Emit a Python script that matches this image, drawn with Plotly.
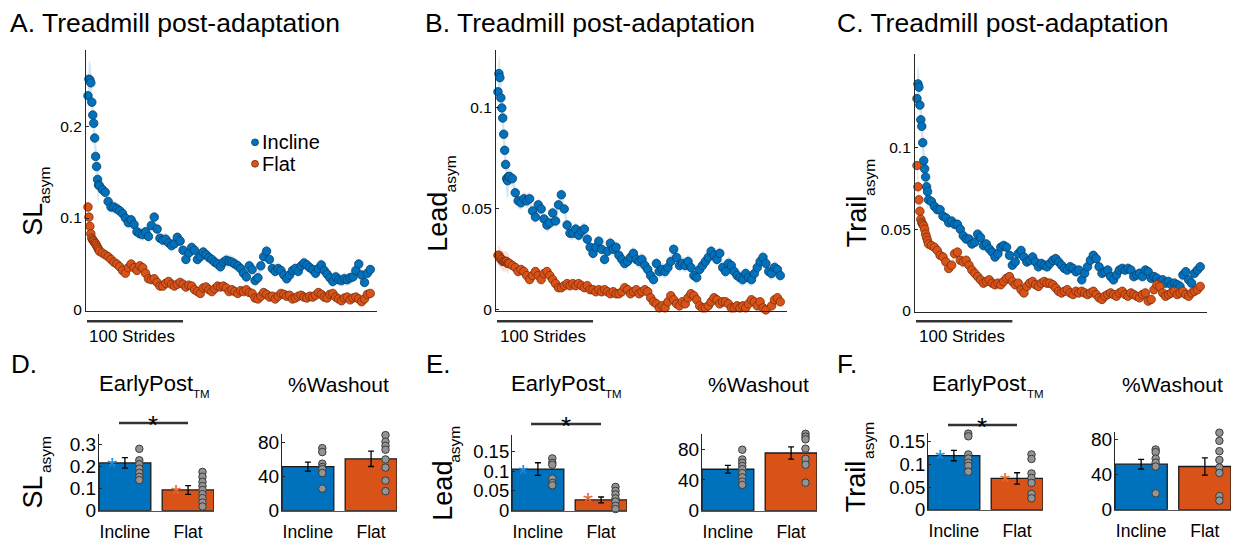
import plotly.graph_objects as go

W, H = 1241, 546
def fx(x): return x / W
def fy(y): return 1 - y / H

# ---------------- data ----------------
strides = list(range(1, 13)) + list(range(13, 296, 3))

sl_incline = [0.233, 0.251, 0.250, 0.247, 0.226, 0.212, 0.203, 0.187, 0.167, 0.156, 0.142, 0.136,
    0.135, 0.131, 0.128, 0.118, 0.112, 0.112,
    0.110, 0.108, 0.105, 0.100, 0.095, 0.098, 0.093, 0.085, 0.083, 0.082,
    0.085, 0.080, 0.092, 0.101, 0.088, 0.078, 0.076, 0.077, 0.073, 0.070,
    0.072, 0.079, 0.075, 0.065, 0.055, 0.062, 0.068, 0.065, 0.055, 0.058,
    0.063, 0.060, 0.057, 0.055, 0.052, 0.050, 0.047, 0.052, 0.054, 0.053,
    0.052, 0.050, 0.048, 0.045, 0.040, 0.036, 0.048, 0.044, 0.032, 0.035,
    0.048, 0.058, 0.064, 0.055, 0.045, 0.042, 0.045, 0.043, 0.038, 0.034,
    0.038, 0.043, 0.045, 0.042, 0.048, 0.051, 0.049, 0.046, 0.044, 0.040,
    0.045, 0.049, 0.043, 0.039, 0.035, 0.031, 0.036, 0.033, 0.032, 0.034,
    0.033, 0.035, 0.036, 0.043, 0.050, 0.038, 0.030, 0.040, 0.044]
sl_flat = [0.112, 0.101, 0.091, 0.083, 0.078, 0.076, 0.075, 0.073, 0.072, 0.070, 0.068, 0.066,
    0.064, 0.062, 0.060, 0.058, 0.055, 0.052,
    0.050, 0.047, 0.043, 0.040, 0.046, 0.050, 0.046, 0.043, 0.048, 0.046,
    0.040, 0.034, 0.033, 0.034, 0.030, 0.026, 0.026, 0.029, 0.031, 0.028,
    0.026, 0.028, 0.030, 0.028, 0.025, 0.027, 0.026, 0.022, 0.020, 0.018,
    0.024, 0.025, 0.022, 0.020, 0.023, 0.026, 0.025, 0.026, 0.024, 0.020,
    0.022, 0.020, 0.018, 0.021, 0.020, 0.022, 0.019, 0.018, 0.013, 0.012,
    0.015, 0.019, 0.017, 0.014, 0.015, 0.012, 0.015, 0.018, 0.017, 0.015,
    0.016, 0.012, 0.013, 0.015, 0.016, 0.014, 0.013, 0.015, 0.014, 0.016,
    0.019, 0.017, 0.014, 0.013, 0.017, 0.018, 0.014, 0.012, 0.010, 0.013,
    0.014, 0.011, 0.013, 0.014, 0.012, 0.009, 0.012, 0.017, 0.018]
lead_incline = [0.108, 0.117, 0.115, 0.105, 0.100, 0.095, 0.087, 0.079, 0.072, 0.065, 0.064, 0.066,
    0.066, 0.065, 0.058, 0.054, 0.053, 0.055,
    0.054, 0.055, 0.049, 0.046, 0.052, 0.050, 0.045, 0.042, 0.043, 0.048,
    0.044, 0.052, 0.057, 0.050, 0.042, 0.038, 0.038, 0.040, 0.037, 0.039,
    0.040, 0.035, 0.031, 0.028, 0.031, 0.034, 0.030, 0.025, 0.029, 0.033,
    0.030, 0.031, 0.027, 0.025, 0.023, 0.024, 0.026, 0.028, 0.025, 0.024,
    0.025, 0.022, 0.020, 0.017, 0.015, 0.023, 0.019, 0.020, 0.019, 0.021,
    0.024, 0.030, 0.026, 0.022, 0.023, 0.022, 0.024, 0.021, 0.017, 0.016,
    0.020, 0.022, 0.024, 0.026, 0.029, 0.027, 0.025, 0.028, 0.021, 0.019,
    0.023, 0.022, 0.019, 0.017, 0.016, 0.015, 0.018, 0.016, 0.015, 0.018,
    0.021, 0.024, 0.026, 0.023, 0.019, 0.018, 0.021, 0.020, 0.017]
lead_flat = [0.027, 0.027, 0.026, 0.025, 0.025, 0.024, 0.024, 0.024, 0.024, 0.024, 0.023, 0.023,
    0.023, 0.022, 0.021, 0.019, 0.020, 0.019,
    0.017, 0.015, 0.017, 0.019, 0.017, 0.015, 0.018, 0.019, 0.017, 0.015,
    0.013, 0.011, 0.011, 0.012, 0.013, 0.012, 0.013, 0.012, 0.013, 0.012,
    0.011, 0.012, 0.010, 0.010, 0.009, 0.010, 0.009, 0.010, 0.009, 0.008,
    0.009, 0.008, 0.008, 0.009, 0.011, 0.010, 0.008, 0.009, 0.010, 0.008,
    0.009, 0.010, 0.009, 0.006, 0.004, 0.003, 0.001, 0.002, 0.001, 0.004,
    0.007, 0.005, 0.003, 0.002, 0.004, 0.003, 0.006, 0.008, 0.007, 0.005,
    0.002, 0.001, 0.001, 0.002, 0.004, 0.006, 0.005, 0.003, 0.004, 0.004,
    0.003, 0.001, 0.001, 0.002, 0.001, 0.002, 0.001, 0.003, 0.005, 0.004,
    0.002, 0.004, 0.001, 0.000, -0.001, 0.002, 0.005, 0.006, 0.004]
trail_incline = [0.130, 0.139, 0.137, 0.126, 0.117, 0.113, 0.103, 0.092, 0.087, 0.082, 0.076, 0.073,
    0.068, 0.067, 0.064, 0.062, 0.062, 0.058,
    0.057, 0.054, 0.055, 0.053, 0.053, 0.050, 0.046, 0.044, 0.044, 0.041,
    0.042, 0.047, 0.045, 0.040, 0.041, 0.038, 0.036, 0.033, 0.035, 0.039,
    0.040, 0.039, 0.034, 0.028, 0.030, 0.035, 0.037, 0.033, 0.030, 0.031,
    0.033, 0.030, 0.027, 0.029, 0.028, 0.027, 0.029, 0.031, 0.032, 0.030,
    0.028, 0.026, 0.025, 0.027, 0.026, 0.024, 0.025, 0.019, 0.023, 0.027,
    0.031, 0.034, 0.032, 0.027, 0.023, 0.024, 0.025, 0.021, 0.019, 0.022,
    0.025, 0.026, 0.025, 0.026, 0.025, 0.021, 0.022, 0.023, 0.021, 0.025,
    0.024, 0.020, 0.021, 0.020, 0.018, 0.019, 0.017, 0.018, 0.016, 0.017,
    0.016, 0.015, 0.022, 0.024, 0.019, 0.017, 0.023, 0.025, 0.027]
trail_flat = [0.089, 0.076, 0.068, 0.061, 0.056, 0.054, 0.053, 0.052, 0.050, 0.047, 0.045, 0.043,
    0.041, 0.040, 0.039, 0.037, 0.034, 0.033,
    0.030, 0.026, 0.028, 0.035, 0.036, 0.031, 0.030, 0.031, 0.028, 0.025,
    0.023, 0.021, 0.019, 0.017, 0.018, 0.019, 0.017, 0.016, 0.017, 0.016,
    0.018, 0.020, 0.021, 0.018, 0.016, 0.017, 0.013, 0.011, 0.015, 0.017,
    0.018, 0.016, 0.015, 0.017, 0.018, 0.017, 0.017, 0.016, 0.014, 0.012,
    0.011, 0.012, 0.013, 0.011, 0.010, 0.012, 0.011, 0.012, 0.011, 0.010,
    0.011, 0.012, 0.010, 0.008, 0.007, 0.009, 0.010, 0.011, 0.010, 0.009,
    0.011, 0.012, 0.010, 0.009, 0.011, 0.010, 0.009, 0.008, 0.010, 0.011,
    0.006, 0.007, 0.013, 0.016, 0.015, 0.011, 0.009, 0.010, 0.011, 0.012,
    0.010, 0.011, 0.012, 0.010, 0.009, 0.011, 0.012, 0.013, 0.015]

# standard error (early strides, later strides)
sl_incline_se = [0.02, 0.007]
sl_flat_se = [0.009, 0.004]
lead_incline_se = [0.009, 0.0035]
lead_flat_se = [0.005, 0.0025]
trail_incline_se = [0.011, 0.0035]
trail_flat_se = [0.007, 0.003]

groups = ["Incline", "Flat"]

sl_early_mean = [0.217, 0.094]
sl_early_se = [0.024, 0.020]
sl_early_inc = [0.351, 0.281, 0.229, 0.211, 0.191, 0.172, 0.154, 0.139]
sl_early_flat = [0.176, 0.154, 0.131, 0.112, 0.094, 0.075, 0.057, 0.037, 0.019]
sl_wash_mean = [51.8, 60.9]
sl_wash_se = [5.3, 9.0]
sl_wash_inc = [73.5, 68.9, 55.2, 51.4, 48.8, 44.2, 25.9]
sl_wash_flat = [88.8, 81.1, 76.2, 71.7, 60.2, 50.6, 35.4, 22.9]

lead_early_mean = [0.105, 0.027]
lead_early_se = [0.016, 0.0074]
lead_early_inc = [0.193, 0.132, 0.121, 0.116, 0.081, 0.070, 0.064]
lead_early_flat = [0.060, 0.050, 0.041, 0.031, 0.023, 0.012, 0.004]
lead_wash_mean = [53.8, 74.9]
lead_wash_se = [5.1, 8.0]
lead_wash_inc = [79.2, 66.5, 62.2, 58.0, 53.8, 48.8, 43.2, 37.7, 33.5]
lead_wash_flat = [99.8, 96.1, 92.7, 80.5, 67.3, 59.7, 36.4]

trail_early_mean = [0.1195, 0.069]
trail_early_se = [0.0115, 0.0125]
trail_early_inc = [0.168, 0.162, 0.122, 0.113, 0.104, 0.097, 0.084]
trail_early_flat = [0.122, 0.112, 0.080, 0.070, 0.059, 0.035, 0.025]
trail_wash_mean = [51.7, 49.0]
trail_wash_se = [5.5, 9.8]
trail_wash_inc = [68.3, 65.3, 57.9, 53.4, 49.0, 18.5]
trail_wash_flat = [87.4, 78.2, 66.4, 56.4, 47.9, 41.7, 15.5, 10.3]

# ---------------- style ----------------
BLUE = "#0072BD"
ORANGE = "#D95319"
BLUE_EDGE = "#0b3f66"
ORANGE_EDGE = "#7a2e0c"
BLUE_BAND = "rgba(0,114,189,0.17)"
ORANGE_BAND = "rgba(217,83,25,0.17)"
REG = "Liberation Sans, Arial, sans-serif"
AXC = "#262626"

fig = go.Figure()
layout = dict(width=W, height=H, margin=dict(l=0, r=0, t=0, b=0),
              paper_bgcolor="white", plot_bgcolor="white", showlegend=False)
annotations = []
shapes = []

def ax_names(i):
    return ("x" if i == 1 else f"x{i}"), ("y" if i == 1 else f"y{i}")

def add_axes(i, x0, x1, y0, y1, xr, yr, yticks, yticktext, tickfont, xcat=False, standoff=0):
    xn, yn = ax_names(i)
    xa = dict(domain=[fx(x0), fx(x1)], range=xr, anchor=yn, showgrid=False, zeroline=False,
              showline=True, linecolor=AXC if not xcat else "#555555", linewidth=1.2)
    if xcat:
        xa.update(tickmode="array", tickvals=[1, 2], ticktext=groups, ticks="",
                  tickfont=dict(family=REG, size=17.5, color="black"), ticklabelstandoff=5)
    else:
        xa.update(showticklabels=False, ticks="")
    ya = dict(domain=[fy(y1), fy(y0)], range=yr, anchor=xn, showgrid=False, zeroline=False,
              showline=True, linecolor=AXC, linewidth=1.2, ticks="inside", ticklen=3,
              tickcolor=AXC, tickmode="array", tickvals=yticks, ticktext=yticktext,
              tickfont=tickfont, ticklabelstandoff=standoff)
    layout["xaxis" if i == 1 else f"xaxis{i}"] = xa
    layout["yaxis" if i == 1 else f"yaxis{i}"] = ya

tsfont = dict(family=REG, size=15.5, color="black")
barfont = dict(family=REG, size=19, color="black")
barfont2 = dict(family=REG, size=18.5, color="black")

add_axes(1, 86, 377, 48, 316, [-1.04, 302], [-0.001, 0.283], [0, 0.1, 0.2], ["0", "0.1", "0.2"], tsfont)
add_axes(2, 496, 787, 48, 316, [-1.04, 302], [-0.0005, 0.1288], [0, 0.05, 0.1], ["0", "0.05", "0.1"], tsfont)
add_axes(3, 915, 1207, 52, 317, [-1.04, 302], [-0.0006, 0.1575], [0, 0.05, 0.1], ["0", "0.05", "0.1"], tsfont)
add_axes(4, 99, 214, 442, 521, [0.59, 2.41], [0, 0.35], [0, 0.1, 0.2, 0.3], ["0", "0.1", "0.2", "0.3"], barfont, True, -2)
add_axes(5, 282, 397, 442, 521, [0.59, 2.41], [0, 90.5], [0, 40, 80], ["0", "40", "80"], barfont, True, -2)
add_axes(6, 512, 627, 443, 521, [0.59, 2.41], [0, 0.192], [0, 0.05, 0.1, 0.15], ["0", "0.05", "0.1", "0.15"], barfont2, True, -2)
add_axes(7, 702, 817, 442, 521, [0.59, 2.41], [0, 100], [0, 40, 80], ["0", "40", "80"], barfont, True, -2)
add_axes(8, 928, 1043, 441, 520, [0.59, 2.41], [0, 0.170], [0, 0.05, 0.1, 0.15], ["0", "0.05", "0.1", "0.15"], barfont2, True, -2)
add_axes(9, 1115, 1231, 440, 520, [0.59, 2.41], [0, 88.5], [0, 40, 80], ["0", "40", "80"], barfont, True, -2)

def add_series(i, vals, se, fill, edge, band):
    xn, yn = ax_names(i)
    sev = [se[0] if k < 12 else se[1] for k in range(len(vals))]
    up = [v + s for v, s in zip(vals, sev)]
    lo = [v - s for v, s in zip(vals, sev)]
    fig.add_trace(go.Scatter(x=strides + strides[::-1], y=up + lo[::-1], fill="toself",
                             fillcolor=band, line=dict(width=0), mode="lines",
                             xaxis=xn, yaxis=yn, hoverinfo="skip"))
    fig.add_trace(go.Scatter(x=strides, y=vals, mode="markers", cliponaxis=False,
                             marker=dict(size=8.5, color=fill, line=dict(color=edge, width=0.8)),
                             xaxis=xn, yaxis=yn))

add_series(1, sl_incline, sl_incline_se, BLUE, BLUE_EDGE, BLUE_BAND)
add_series(1, sl_flat, sl_flat_se, ORANGE, ORANGE_EDGE, ORANGE_BAND)
add_series(2, lead_incline, lead_incline_se, BLUE, BLUE_EDGE, BLUE_BAND)
add_series(2, lead_flat, lead_flat_se, ORANGE, ORANGE_EDGE, ORANGE_BAND)
add_series(3, trail_incline, trail_incline_se, BLUE, BLUE_EDGE, BLUE_BAND)
add_series(3, trail_flat, trail_flat_se, ORANGE, ORANGE_EDGE, ORANGE_BAND)

def add_bars(i, means, ses, inc_pts, flat_pts):
    xn, yn = ax_names(i)
    fig.add_trace(go.Bar(x=[1, 2], y=means, width=0.82, xaxis=xn, yaxis=yn,
                         marker=dict(color=[BLUE, ORANGE], line=dict(color="#1a1a1a", width=1.3)),
                         error_y=dict(type="data", array=ses, color="black", thickness=1.3, width=3)))
    for c, pts in ((1, inc_pts), (2, flat_pts)):
        fig.add_trace(go.Scatter(x=[c + 0.228] * len(pts), y=pts, mode="markers", cliponaxis=False,
                                 marker=dict(size=7.5, color="#949494", line=dict(color="#3a3a3a", width=1)),
                                 xaxis=xn, yaxis=yn))

add_bars(4, sl_early_mean, sl_early_se, sl_early_inc, sl_early_flat)
add_bars(5, sl_wash_mean, sl_wash_se, sl_wash_inc, sl_wash_flat)
add_bars(6, lead_early_mean, lead_early_se, lead_early_inc, lead_early_flat)
add_bars(7, lead_wash_mean, lead_wash_se, lead_wash_inc, lead_wash_flat)
add_bars(8, trail_early_mean, trail_early_se, trail_early_inc, trail_early_flat)
add_bars(9, trail_wash_mean, trail_wash_se, trail_wash_inc, trail_wash_flat)

# ---------------- text ----------------
def txt(x, y, s, size, color="black", xanchor="center", yanchor="middle", angle=0):
    annotations.append(dict(x=fx(x), y=fy(y), xref="paper", yref="paper", text=s, showarrow=False,
                            font=dict(size=size, family=REG, color=color), xanchor=xanchor,
                            yanchor=yanchor, textangle=angle, borderpad=0))

for xx, lab in ((9, "A"), (424, "B"), (836, "C")):
    txt(xx, 21, f"{lab}. Treadmill post-adaptation", 26.5, xanchor="left")
for xx, lab in ((10, "D"), (425, "E"), (836, "F")):
    txt(xx, 371, f"{lab}.", 26, xanchor="left")

# y-axis labels: main part and 'asym' subscript
ylabels = [("SL", 33, 222.5, 45, 187.5), ("Lead", 438, 224.5, 450, 176), ("Trail", 857, 224, 870, 179.5),
           ("SL", 33, 502.5, 45, 464), ("Lead", 443, 500.5, 455, 453.5), ("Trail", 856, 496, 869, 449.5)]
for main, mx, my, sx, sy in ylabels:
    txt(mx, my, main, 27, angle=-90)
    txt(sx, sy, "asym", 15.5, angle=-90)

for cx, tx in ((146, 201.5), (557.5, 613.5), (979, 1035)):
    txt(cx, 391, "EarlyPost", 22)
    txt(tx, 401, "TM", 11.5)
for cx in (338.5, 758.5, 1172.5):
    txt(cx, 392, "%Washout", 21)

# scale bars
for i, xl in ((1, 88), (2, 499), (3, 918)):
    xn, _ = ax_names(i)
    shapes.append(dict(type="line", xref=xn, yref="paper", x0=0, x1=100, y0=fy(326.5), y1=fy(326.5),
                       line=dict(color="#333333", width=2.5)))
    txt(xl, 342, "100 Strides", 17, xanchor="left")

# legend
for yy, col, edge, name in ((143, BLUE, BLUE_EDGE, "Incline"), (165, ORANGE, ORANGE_EDGE, "Flat")):
    shapes.append(dict(type="circle", xref="paper", yref="paper", x0=fx(251.5), x1=fx(258.5),
                       y0=fy(yy + 3.5), y1=fy(yy - 3.5), fillcolor=col, line=dict(color=edge, width=0.8)))
    txt(261, yy, name, 20, xanchor="left")

# significance lines and stars
for x0, x1, yl, sx, sy in ((119, 188, 431, 153, 421), (531, 601, 432, 566, 422), (948, 1017, 433, 982, 423)):
    shapes.append(dict(type="line", xref="paper", yref="paper", x0=fx(x0), x1=fx(x1), y0=fy(yl), y1=fy(yl),
                       line=dict(color="#333333", width=2.5)))
    txt(sx, sy + 12, "*", 26)
for bx, by, ox, oy in ((112, 464, 176, 492), (523, 471, 588, 500), (940, 456, 1005, 480)):
    txt(bx, by + 12, "*", 26, color="#1f8ad6")
    txt(ox, oy + 12, "*", 26, color="#e8672b")

layout["annotations"] = annotations
layout["shapes"] = shapes
fig.update_layout(**layout)
fig.write_html("out.html")
